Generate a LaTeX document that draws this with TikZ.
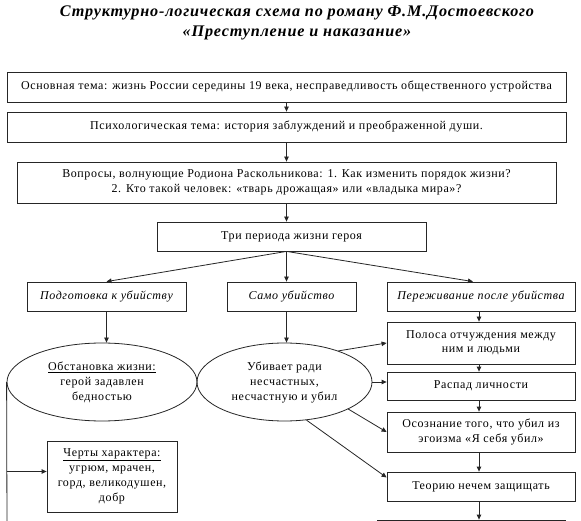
\documentclass[tikz,border=0pt]{standalone}
\usepackage{fontspec}
\setmainfont{Liberation Serif}[LetterSpace=5]
\usetikzlibrary{arrows.meta,shapes.geometric}
\begin{document}
\begin{tikzpicture}[x=1pt,y=-1pt,
  every node/.style={font=\fontsize{12}{15}\selectfont, text=black},
  box/.style={draw=black!85, line width=0.8pt, rectangle, inner sep=0pt, align=center},
  ell/.style={draw=black!85, line width=0.8pt, ellipse, inner sep=0pt, align=center},
  arr/.style={line width=0.8pt, draw=black!85, -{Triangle[length=5pt,width=4.5pt]}},
  ln/.style={line width=0.8pt, draw=black!85},
  itbox/.style={box, font=\fontsize{12}{15}\selectfont\itshape},
  ttl/.style={font=\fontsize{16.2}{20}\selectfont\bfseries\itshape, align=center}]
\useasboundingbox (0,0) rectangle (581,521);
\clip (0,0) rectangle (581,521);
\fill[white] (0,0) rectangle (581,521);

\node[ttl] (title) at (297,23) {Структурно-логическая схема по роману Ф.М.Достоевского\\«Преступление и наказание»};

\node[box, minimum width=559pt, minimum height=30pt] (b1) at (286.5,87) {Основная тема: жизнь России середины 19 века, несправедливость общественного устройства};
\node[box, minimum width=559pt, minimum height=30pt] (b2) at (286.5,127) {Психологическая тема: история заблуждений и преображенной души.};
\node[box, minimum width=539pt, minimum height=41pt] (b3) at (286.5,182.5) {Вопросы, волнующие Родиона Раскольникова: 1. Как изменить порядок жизни?\\2. Кто такой человек: «тварь дрожащая» или «владыка мира»?};
\node[box, minimum width=269pt, minimum height=29pt] (b4) at (291.5,236.5) {Три периода жизни героя};

\node[itbox, minimum width=159pt, minimum height=29pt] (b5) at (106.5,296.5) {Подготовка к убийству};
\node[itbox, minimum width=129pt, minimum height=29pt] (b6) at (291.5,296.5) {Само убийство};
\node[itbox, minimum width=188pt, minimum height=29pt] (b7) at (481,296.5) {Переживание после убийства};

\node[ell, minimum width=190pt, minimum height=78pt] (e1) at (102,382) {\underline{Обстановка жизни:}\\герой задавлен\\бедностью};
\node[ell, minimum width=175pt, minimum height=78pt] (e2) at (284.5,382) {Убивает ради\\несчастных,\\несчастную и убил};

\node[box, minimum width=188pt, minimum height=42pt, font=\fontsize{12}{14}\selectfont] (b8) at (481,343) {Полоса отчуждения между\\ним и людьми};
\node[box, minimum width=188pt, minimum height=28pt] (b9) at (481,386) {Распад личности};
\node[box, minimum width=188pt, minimum height=40pt] (b10) at (481,432) {Осознание того, что убил из\\эгоизма «Я себя убил»};
\node[box, minimum width=188pt, minimum height=29pt] (b11) at (481,486.5) {Теорию нечем защищать};
\node[box, minimum width=188pt, minimum height=30pt] (b13) at (471,535) {};

\node[box, minimum width=130pt, minimum height=71pt] (b12) at (112,476.5) {\underline{Черты характера:}\\угрюм, мрачен,\\горд, великодушен,\\добр};

\coordinate (lb) at (7,530);

% connectors
\draw[arr] (b1.south -| b3.south) -- (b2.north -| b3.south);
\draw[arr] (b2.south -| b3.south) -- (b3.north);
\draw[arr] (b3.south) -- (b3.south |- b4.north);
\draw[arr] (b3.south |- b4.south) -- (b5.south |- b5.north);
\draw[arr] (b3.south |- b4.south) -- (b3.south |- b6.north);
\draw[arr] (b3.south |- b4.south) -- ([xshift=-8pt]b7.north);
\draw[arr] (b5.south) -- (b5.south |- e1.north);
\draw[arr] (b3.south |- b6.south) -- (b3.south |- e2.north);
\draw[arr] ([xshift=-2pt]b7.south) -- ([xshift=-2pt]b8.north);
\draw[arr] ([xshift=-2pt]b8.south) -- ([xshift=-2pt]b9.north);
\draw[arr] ([xshift=-2pt]b9.south) -- ([xshift=-2pt]b10.north);
\draw[arr] ([xshift=-2pt]b10.south) -- ([xshift=-2pt]b11.north);
\draw[arr] ([xshift=-2pt]b11.south) -- ([xshift=8pt]b13.north);

\draw[arr] (e2.30) -- (b8.west);
\draw[arr] (e2.east) -- (e2.east -| b9.west);
\draw[arr] (e2.-23) -- (b10.west);
\draw[arr] (e2.-60) -- ([yshift=9pt]b11.west);

\draw[ln] (e1.west) -- (lb);
\draw[arr] ([yshift=5pt]b12.west -| e1.west) -- ([yshift=5pt]b12.west);
\end{tikzpicture}
\end{document}
